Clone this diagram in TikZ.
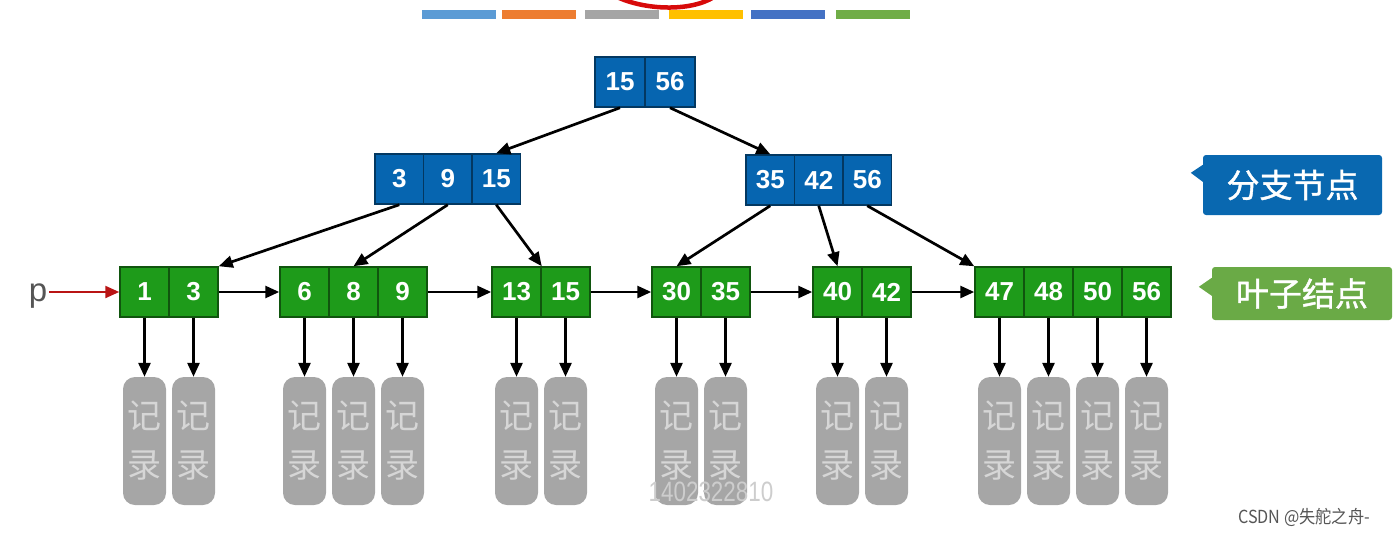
\documentclass[tikz,border=0pt]{standalone}
\usepackage{fontspec}
\setmainfont{Liberation Sans}
\newfontfamily\cjk{Noto Sans CJK SC}
\newfontfamily\cjkmid[FakeBold=1.2]{Noto Sans CJK SC}
\usepackage{tikz}
\usetikzlibrary{arrows.meta}

\definecolor{branchblue}{RGB}{6,101,176}
\definecolor{leafgreen}{RGB}{30,155,26}
\definecolor{tagblue}{RGB}{9,104,176}
\definecolor{taggreen}{RGB}{106,170,70}
\definecolor{recgray}{RGB}{166,166,166}
\definecolor{rectext}{RGB}{214,214,214}
\definecolor{pgray}{RGB}{85,85,85}
\definecolor{pred}{RGB}{185,20,20}
\definecolor{markred}{RGB}{215,10,10}
\definecolor{wmgray}{RGB}{205,205,205}
\definecolor{barA}{RGB}{91,155,213}
\definecolor{barB}{RGB}{237,125,49}
\definecolor{barC}{RGB}{165,165,165}
\definecolor{barD}{RGB}{255,192,0}
\definecolor{barE}{RGB}{68,114,196}
\definecolor{barF}{RGB}{112,173,71}

\begin{document}
\begin{tikzpicture}[x=1pt,y=-1pt,
    cell/.style={draw=#1!55!black, fill=#1, line width=1.5pt, inner sep=0pt,
      minimum height=50pt, text=white, font=\fontsize{26}{26}\selectfont\bfseries},
    branch/.style={cell=branchblue, minimum width=48.5pt},
    leaf/.style={cell=leafgreen, minimum width=49pt},
    rec/.style={fill=recgray, rounded corners=12pt, inner sep=0pt, minimum width=43pt,
      minimum height=128pt, align=center, text=rectext, font=\cjk\fontsize{34}{49}\selectfont},
    tag/.style={fill=#1, rounded corners=3pt, inner sep=0pt, text=white,
      font=\cjkmid\fontsize{33}{33}\selectfont},
    arr/.style={-{Triangle[length=14pt,width=12pt]}, line width=2.7pt},
  ]
  \useasboundingbox (0,0) rectangle (1394,535);

  % colour bars and red mark on top
  \foreach \c/\x in {barA/422, barB/502, barC/585, barD/669, barE/751, barF/836}
    \fill[\c] (\x,10) rectangle ++(74,9);
  \draw[markred, line width=4.5pt] (617,-3) .. controls (645,10) and (690,12) .. (714,-3);

  % root
  \foreach \v [count=\i] in {15,56}
    \node[branch, minimum width=50pt] (r\i) at ({595+(\i-0.5)*50},82) {\v};
  % branch nodes
  \foreach \v [count=\i] in {3,9,15}
    \node[branch] (a\i) at ({375+(\i-0.5)*48.5},179) {\v};
  \foreach \v [count=\i] in {35,42,56}
    \node[branch] (b\i) at ({746+(\i-0.5)*48.5},180) {\v};

  % leaves with their records
  \foreach \k/\x/\vals in {1/120/{1,3}, 2/280/{6,8,9}, 3/492/{13,15},
      4/652/{30,35}, 5/813/{40,42}, 6/975/{47,48,50,56}} {
    \foreach \v [count=\i] in \vals {
      \node[leaf] (l\k-\i) at ({\x+(\i-0.5)*49},292) {\v};
      \node[rec] (rec\k-\i) at ({\x+(\i-0.5)*49},441) {记\\录};
      \draw[arr] (l\k-\i) -- (rec\k-\i);
    }
  }

  % tree links
  \draw[arr] (r1.south) -- (a3.north);
  \draw[arr] (r2.south) -- (b1.north);
  \draw[arr] (a1.south) -- (l1-2.north east);
  \draw[arr] (a2.south) -- (l2-2.north);
  \draw[arr] (a3.south) -- (l3-1.north east);
  \draw[arr] (b1.south) -- (l4-1.north);
  \draw[arr] (b2.south) -- (l5-1.north);
  \draw[arr] (b3.south) -- (l6-1.north west);

  % leaf chain
  \foreach \a/\b in {l1-2/l2-1, l2-3/l3-1, l3-2/l4-1, l4-2/l5-1, l5-2/l6-1}
    \draw[arr] (\a) -- (\b);

  % pointer p
  \node[text=pgray, inner sep=2pt, font=\fontsize{33}{33}\selectfont] (p) at (38,296) {p};
  \draw[arr, pred, line width=2.2pt] (p.east |- l1-1) -- (l1-1);

  % tags
  \node[tag=tagblue, minimum width=179pt, minimum height=60pt] (tagbranch) at (1292.5,185) {分支节点};
  \fill[tagblue] ([yshift=-10pt]tagbranch.north west) -- ++(-12,8) -- ++(12,9) -- cycle;
  \node[tag=taggreen, minimum width=180pt, minimum height=53pt] (tagleaf) at (1302,293.5) {叶子结点};
  \fill[taggreen] ([yshift=-11pt]tagleaf.north west) -- ++(-13,9) -- ++(13,9) -- cycle;

  % watermarks
  \node[text=wmgray, font=\fontsize{28}{28}\selectfont] (wmnum) at (711,492) {\scalebox{0.8}[1]{1402322810}};
  \node[text=pgray, font=\cjk\fontsize{18}{18}\selectfont] (wmcsdn) at (1304,517) {\scalebox{0.9}[1]{CSDN @失舵之舟-}};
\end{tikzpicture}
\end{document}
